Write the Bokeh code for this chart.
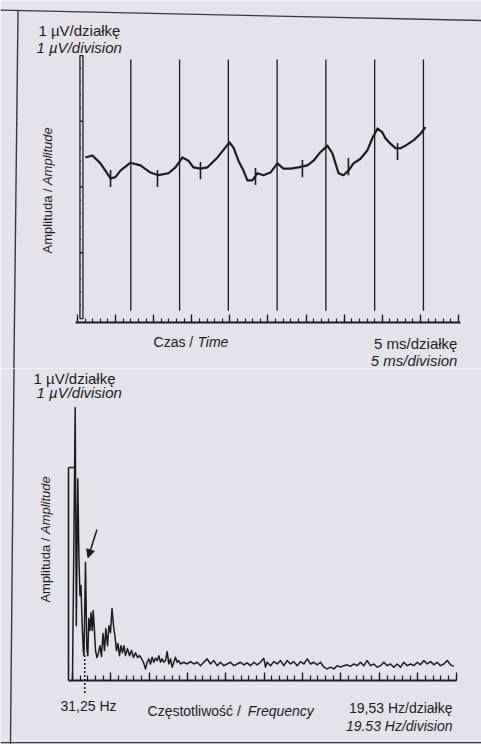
import math
from bokeh.plotting import figure
from bokeh.layouts import column
from bokeh.models import (Range1d, LinearAxis, SingleIntervalTicker, FixedTicker,
                          Label, Arrow, NormalHead, CustomJSTickFormatter)
from bokeh.embed import file_html
from bokeh.resources import INLINE

# ---------------- data: top panel (time domain) ----------------
time_ms = [5.2, 9.8, 15.1, 21.7, 24.9, 28.2, 34.8, 41.3, 47.9, 53.1,
           59.7, 64.3, 68.9, 72.8, 76.1, 80.7, 85.3, 91.9, 99.7, 102.4,
           105.6, 108.9, 111.5, 114.8, 118.1, 122.0, 126.6, 131.2, 135.2, 139.8,
           145.0, 150.9, 154.9, 159.4, 164.0, 167.3, 169.3, 171.3, 174.5, 177.8,
           181.1, 185.7, 190.3, 193.6, 196.9, 200.1, 202.1, 205.4, 208.7, 212.0,
           215.2, 220.5, 225.1, 228.3]
amp_uv = [2.51, 2.54, 2.42, 2.19, 2.21, 2.31, 2.43, 2.39, 2.28, 2.24,
          2.27, 2.36, 2.51, 2.46, 2.36, 2.34, 2.36, 2.51, 2.74, 2.66,
          2.46, 2.31, 2.16, 2.16, 2.27, 2.24, 2.28, 2.42, 2.34, 2.34,
          2.36, 2.39, 2.46, 2.59, 2.69, 2.57, 2.42, 2.27, 2.24, 2.31,
          2.42, 2.49, 2.62, 2.81, 2.95, 2.89, 2.80, 2.72, 2.65, 2.65,
          2.69, 2.77, 2.87, 2.97]
stim_ms = [35, 67, 99, 131, 163, 195, 227]
marker_ms = [21.7, 52.5, 80.7, 116.8, 147.6, 177.8, 210.0]
marker_uv = [2.19, 2.19, 2.31, 2.22, 2.34, 2.37, 2.60]
MS_PER_DIV = 5
CAL_UV_PER_DIV = 1
CAL_DIVS = 4

# ---------------- data: bottom panel (spectrum) ----------------
freq_hz = [0, 6.9, 9.7, 13.5, 16.5, 19.1, 21.6, 24.2, 27.5, 29.3,
           33.1, 36.4, 39.0, 41.5, 44.6, 47.1, 50.2, 52.7, 55.2, 58.6,
           62.4, 66.2, 70.0, 73.8, 77.7, 81.5, 84.8, 89.1, 92.9, 96.7,
           100.6, 104.4, 108.2, 112.0, 115.8, 119.7, 123.5, 127.3, 131.1, 134.9,
           140.0, 145.1, 150.2, 155.3, 160.4, 165.5, 170.6, 175.7, 180.8,
           185.8, 190.1, 194.3, 198.6, 202.8, 207.1, 211.3, 215.5, 219.8, 224.0,
           228.3, 232.5, 236.8, 241.0, 245.2, 249.5, 253.7, 258.0, 262.2, 266.5,
           270.7, 275.0,
           283.4, 291.9, 300.4, 308.9, 317.4, 325.9, 334.4, 342.8, 351.3, 359.8,
           368.3, 376.8, 385.3, 393.8, 402.3, 410.7, 419.2, 427.7, 436.2, 444.7,
           453.2, 461.7, 470.1, 478.6, 487.1, 491.4,
           495.6, 504.1, 512.6, 521.1, 529.6, 538.0, 546.5, 555.0, 563.5, 572.0,
           580.5, 589.0, 597.5, 605.9, 614.4, 622.9, 631.4, 639.9, 648.4, 656.9,
           665.3, 673.8, 682.3, 690.8, 699.3, 707.8, 716.3, 724.8, 733.2, 741.7,
           750.2, 758.7, 767.2, 775.7, 784.2, 792.7, 801.1, 809.6, 818.1, 826.6,
           835.1, 843.6, 852.1, 860.5, 869.0, 877.5, 886.0, 894.5, 903.0, 911.5,
           920.0, 928.4, 936.9, 945.4, 953.9, 962.4, 970.9]
spec_uv = [0.005, 1.282, 0.258, 0.948, 0.563, 0.399, 0.446, 0.282, 0.141, 0.117,
           0.554, 0.150, 0.117, 0.291, 0.235, 0.319, 0.235, 0.329, 0.258, 0.141,
           0.108, 0.131, 0.164, 0.113, 0.221, 0.141, 0.244, 0.164, 0.258, 0.225,
           0.338, 0.258, 0.207, 0.141, 0.174, 0.117, 0.164, 0.131, 0.164, 0.117,
           0.150, 0.117, 0.141, 0.108, 0.131, 0.108, 0.117, 0.103, 0.085,
           0.055, 0.086, 0.102, 0.078, 0.110, 0.086, 0.105, 0.094, 0.117, 0.086,
           0.102, 0.086, 0.094, 0.136, 0.078, 0.102, 0.063, 0.086, 0.110, 0.086,
           0.094, 0.078,
           0.086, 0.078, 0.089, 0.078, 0.086, 0.070, 0.086, 0.102, 0.078, 0.094,
           0.070, 0.086, 0.070, 0.078, 0.086, 0.070, 0.078, 0.086, 0.074, 0.083,
           0.070, 0.086, 0.074, 0.086, 0.105, 0.063,
           0.086, 0.070, 0.089, 0.078, 0.094, 0.070, 0.094, 0.078, 0.089, 0.070,
           0.089, 0.078, 0.102, 0.078, 0.086, 0.074, 0.086, 0.063, 0.055, 0.063,
           0.055, 0.070, 0.063, 0.070, 0.074, 0.067, 0.078, 0.070, 0.086, 0.070,
           0.094, 0.070, 0.078, 0.063, 0.070, 0.086, 0.070, 0.078, 0.063, 0.078,
           0.063, 0.086, 0.070, 0.078, 0.070, 0.086, 0.074, 0.094, 0.078, 0.089,
           0.074, 0.086, 0.070, 0.078, 0.094, 0.074, 0.067]
HZ_PER_DIV = 19.53
STIM_HZ = 31.25

BG = "#e4e2ea"
INK = "#1c1c1e"
FRAME = "#3a3a3e"
FONT = "Liberation Sans"
FS = "14px"
W = 481
H1 = 368
H2 = 376


def base_fig(xr, yr, h):
    p = figure(width=W, height=h, x_range=xr, y_range=yr,
               output_backend="svg", toolbar_location=None,
               x_axis_location=None, y_axis_location=None,
               min_border=0, min_border_left=0, min_border_right=0,
               min_border_top=0, min_border_bottom=0,
               background_fill_color=BG, border_fill_color=BG,
               outline_line_color=None)
    for g in p.grid:
        g.visible = False
    return p


def blank():
    return CustomJSTickFormatter(code="return ''")


def lab(p, x, y, text, italic=False, align="left", size=FS, angle=0.0):
    p.add_layout(Label(x=x, y=y, text=text, text_font=FONT, text_font_size=size,
                       text_font_style="italic" if italic else "normal",
                       text_color=INK, text_align=align, text_baseline="middle",
                       angle=angle))


# ======================= TOP PANEL =======================
p1 = base_fig(Range1d(-50.5, 265.1), Range1d(-0.700, 4.897), H1)

xa1 = LinearAxis(fixed_location=0, bounds=(-1.3, 251.3),
                 ticker=SingleIntervalTicker(interval=5 * MS_PER_DIV, num_minor_ticks=5),
                 formatter=blank(),
                 axis_line_width=1.8, axis_line_color=INK,
                 major_tick_in=8, major_tick_out=0, minor_tick_in=4, minor_tick_out=0,
                 major_tick_line_width=1.3, minor_tick_line_width=1.2,
                 major_tick_line_color=INK, minor_tick_line_color=INK)
p1.add_layout(xa1, "below")

# calibration bar (1 uV per division)
CAL_BASE = 0.06
cal_top = CAL_BASE + CAL_DIVS * CAL_UV_PER_DIV
p1.quad(left=1.64, right=3.61, bottom=CAL_BASE, top=cal_top,
        fill_color=None, line_color=INK, line_width=1.3)
div_y = [CAL_BASE + k * CAL_UV_PER_DIV for k in range(1, CAL_DIVS)]
p1.segment(x0=[1.64] * len(div_y), y0=div_y, x1=[3.61] * len(div_y), y1=div_y,
           line_color=INK, line_width=1.4)
minor_y = [CAL_BASE + k * CAL_UV_PER_DIV / 5 for k in range(1, CAL_DIVS * 5) if k % 5]
p1.segment(x0=[1.64] * len(minor_y), y0=minor_y, x1=[2.4] * len(minor_y), y1=minor_y,
           line_color=INK, line_width=1.0)

# stimulus lines
p1.segment(x0=stim_ms, y0=[0.18] * len(stim_ms), x1=stim_ms, y1=[4.0] * len(stim_ms),
           line_color=INK, line_width=1.3)
# response trace
p1.line(time_ms, amp_uv, line_color=INK, line_width=2.2, line_join="round")
# trough markers
p1.segment(x0=marker_ms, y0=[m - 0.13 for m in marker_uv],
           x1=marker_ms, y1=[m + 0.13 for m in marker_uv],
           line_color=INK, line_width=1.6)

# scanned page frame
p1.line([-50.5, 265.1], [4.75, 4.593], line_color=FRAME, line_width=1.4)
p1.line([-39.0, -41.7], [4.75, -0.700], line_color=FRAME, line_width=1.4)

lab(p1, -25.6, 4.44, "1 µV/działkę", size="15px")
lab(p1, -26.9, 4.18, "1 µV/division", italic=True, size="15px")
lab(p1, -19.7, 1.05, "Amplituda / ", size="13px", angle=math.pi / 2)
lab(p1, -19.7, 2.09, "Amplitude", italic=True, size="13px", angle=math.pi / 2)
lab(p1, 49.9, -0.30, "Czas / ")
lab(p1, 78.7, -0.30, "Time", italic=True)
lab(p1, 249.3, -0.32, "5 ms/działkę", align="right", size="15px")
lab(p1, 249.3, -0.58, "5 ms/division", italic=True, align="right", size="15px")

# ======================= BOTTOM PANEL =======================
p2 = base_fig(Range1d(-183.3, 1041.3), Range1d(-0.300, 1.465), H2)

xa2 = LinearAxis(fixed_location=0, bounds=(-10.2, 977.7),
                 ticker=SingleIntervalTicker(interval=5 * HZ_PER_DIV, num_minor_ticks=5),
                 formatter=blank(),
                 axis_line_width=1.8, axis_line_color=INK,
                 major_tick_in=8, major_tick_out=0, minor_tick_in=5, minor_tick_out=0,
                 major_tick_line_width=1.3, minor_tick_line_width=1.2,
                 major_tick_line_color=INK, minor_tick_line_color=INK)
p2.add_layout(xa2, "below")
ya2 = LinearAxis(fixed_location=-10.2, bounds=(0, CAL_UV_PER_DIV),
                 ticker=FixedTicker(ticks=[CAL_UV_PER_DIV], minor_ticks=[]),
                 formatter=blank(),
                 axis_line_width=1.6, axis_line_color=INK,
                 major_tick_in=6, major_tick_out=0, major_tick_line_width=1.3,
                 major_tick_line_color=INK, minor_tick_in=0, minor_tick_out=0)
p2.add_layout(ya2, "left")

p2.line(freq_hz, spec_uv, line_color=INK, line_width=1.5, line_join="round")
p2.segment(x0=[STIM_HZ], y0=[0.12], x1=[STIM_HZ], y1=[-0.063],
           line_color=INK, line_width=1.5, line_dash="2 2")
p2.add_layout(Arrow(end=NormalHead(size=8, fill_color=INK, line_color=INK),
                    x_start=62.4, y_start=0.709, x_end=39.5, y_end=0.577,
                    line_color=INK, line_width=1.5))

p2.line([-148.9, -157.9], [1.465, -0.300], line_color=FRAME, line_width=1.4)
p2.line([-183.3, 1041.3], [-0.291, -0.291], line_color=FRAME, line_width=1.4)

lab(p2, -99.3, 1.418, "1 µV/działkę", size="15px")
lab(p2, -91.7, 1.352, "1 µV/division", italic=True, size="15px")
lab(p2, -68.7, 0.366, "Amplituda / ", size="13px", angle=math.pi / 2)
lab(p2, -68.7, 0.688, "Amplitude", italic=True, size="13px", angle=math.pi / 2)
lab(p2, -30.6, -0.117, "31,25 Hz")
lab(p2, 191.0, -0.141, "Częstotliwość / ")
lab(p2, 446.0, -0.141, "Frequency", italic=True)
lab(p2, 967.5, -0.131, "19,53 Hz/działkę", align="right")
lab(p2, 967.5, -0.211, "19.53 Hz/division", italic=True, align="right")

layout = column(p1, p2, spacing=0)
open("out.html", "w").write(file_html(layout, INLINE))
